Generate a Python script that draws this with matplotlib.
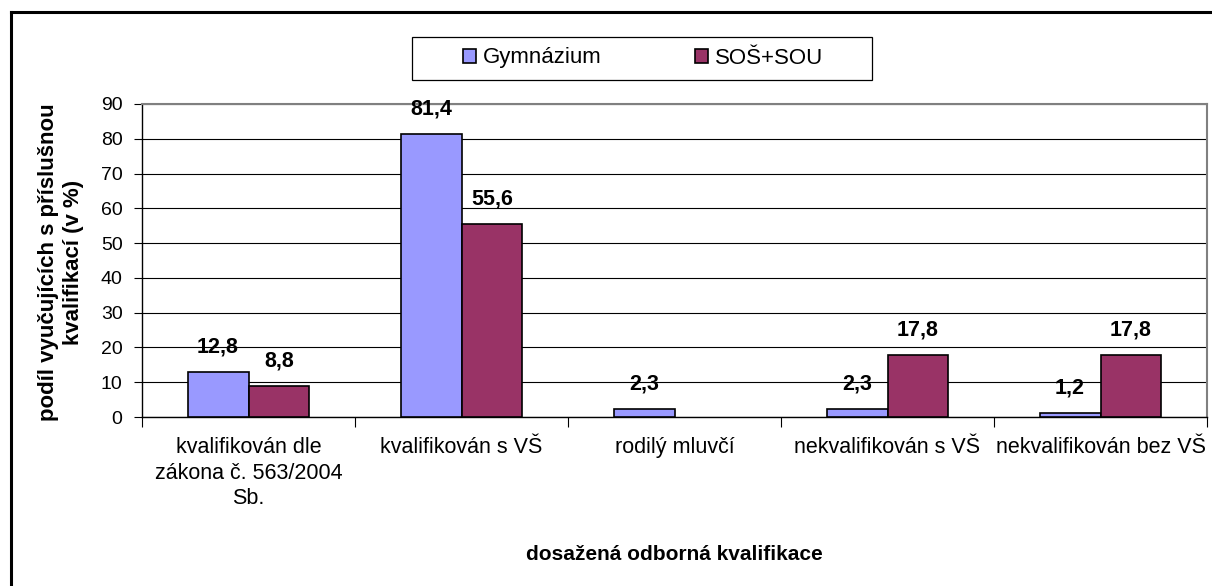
import matplotlib
matplotlib.use("Agg")
import matplotlib.pyplot as plt
from matplotlib.lines import Line2D
from matplotlib.patches import Rectangle
import numpy as np

plt.rcParams['font.family'] = ['Liberation Sans', 'DejaVu Sans']

categories = ["kvalifikován dle\nzákona č. 563/2004\nSb.", "kvalifikován s VŠ",
              "rodilý mluvčí", "nekvalifikován s VŠ", "nekvalifikován bez VŠ"]
series_names = ["Gymnázium", "SOŠ+SOU"]
gymnazium = [12.8, 81.4, 2.3, 2.3, 1.2]
sos_sou = [8.8, 55.6, 0.0, 17.8, 17.8]
colors = ["#9999FF", "#993366"]
y_ticks = [0, 10, 20, 30, 40, 50, 60, 70, 80, 90]

W, H = 1212, 586
fig = plt.figure(figsize=(W / 100, H / 100), dpi=100)
fig.patch.set_facecolor("white")

ax = fig.add_axes([142 / W, 1 - 417 / H, (1207 - 142) / W, (417 - 104) / H])

x = np.arange(len(categories))
bw = 0.286
handles = []
for i, (vals, name) in enumerate(zip([gymnazium, sos_sou], series_names)):
    offs = (i - 0.5) * bw
    bars = ax.bar(x + offs, vals, width=bw, color=colors[i], edgecolor="black",
                  linewidth=1.2, label=name, zorder=3)
    handles.append(bars)
    for b, xi, v in zip(bars, x + offs, vals):
        if v > 0:
            ax.annotate(f"{v:.1f}".replace(".", ","), (xi, v), xytext=(0, 10.5),
                        textcoords="offset points", ha="center", va="bottom",
                        fontsize=15.5, fontweight="bold", zorder=4)
        else:
            b.set_linewidth(0)

ax.set_xlim(-0.5, len(categories) - 0.5)
ax.set_ylim(0, 90)
ax.set_yticks(y_ticks)
ax.set_yticklabels([str(t) for t in y_ticks], fontsize=14)
ax.tick_params(axis="y", direction="out", length=5.5, width=0.8, pad=8.5)
ax.set_xticks(x)
ax.set_xticklabels(categories, fontsize=15.5, linespacing=1.28)
ax.tick_params(axis="x", which="major", length=0, pad=14.5)
ax.set_xticks(np.arange(-0.5, len(categories), 1.0), minor=True)
ax.tick_params(axis="x", which="minor", direction="out", length=7, width=0.8)

ax.yaxis.grid(True, color="black", linewidth=0.8, zorder=0)
ax.set_axisbelow(True)
for s in ["left", "bottom"]:
    ax.spines[s].set_color("black")
    ax.spines[s].set_linewidth(1.0)
for s in ["top", "right"]:
    ax.spines[s].set_color("#808080")
    ax.spines[s].set_linewidth(1.5)

fig.text(61 / W, 1 - 262 / H, "podíl vyučujících s příslušnou\nkvalifikací (v %)",
         rotation=90, ha="center", va="center", fontsize=16, fontweight="bold",
         multialignment="center", linespacing=1.3)
fig.text(674 / W, 1 - 555 / H, "dosažená odborná kvalifikace", ha="center",
         va="center", fontsize=15, fontweight="bold")

# legend frame
fig.add_artist(Rectangle((412 / W, 1 - 80 / H), 460 / W, 43 / H, transform=fig.transFigure,
                         facecolor="white", edgecolor="black", linewidth=0.9))
leg = fig.legend(handles=handles, labels=series_names, loc="center",
                 bbox_to_anchor=(643 / W, 1 - 58 / H), ncol=2, fontsize=16,
                 frameon=False, handlelength=0.6, handleheight=0.6, handletextpad=0.3,
                 columnspacing=4.2, borderaxespad=0, borderpad=0)

fig.add_artist(Line2D([11 / W, 11 / W], [0, 1 - 12 / H], color="black", linewidth=2.2,
                      transform=fig.transFigure))
fig.add_artist(Line2D([11 / W, 1], [1 - 12 / H, 1 - 12 / H], color="black", linewidth=2.2,
                      transform=fig.transFigure))

fig.savefig("out.png", dpi=100)
